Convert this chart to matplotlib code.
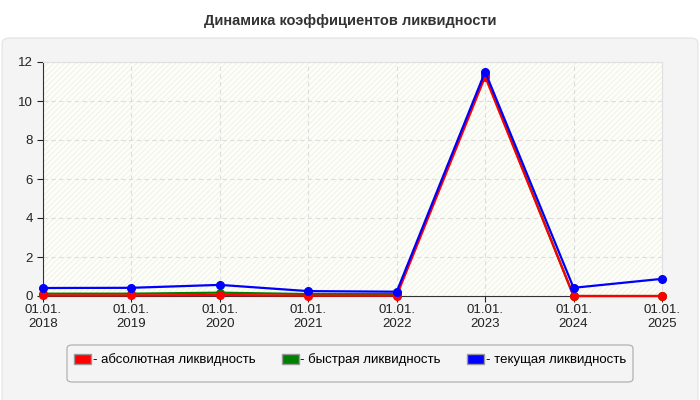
import matplotlib
matplotlib.use('Agg')
import matplotlib.pyplot as plt
from matplotlib.patches import FancyBboxPatch, Rectangle, Patch

plt.rcParams['font.family'] = ['Liberation Sans', 'DejaVu Sans']
plt.rcParams['hatch.linewidth'] = 0.5

# data
years = ['2018', '2019', '2020', '2021', '2022', '2023', '2024', '2025']
x_labels = ['01.01.\n' + y for y in years]
absolute = [0.03, 0.03, 0.05, 0.02, 0.02, 11.25, 0.0, 0.0]
quick = [0.12, 0.12, 0.17, 0.10, 0.10, 11.35, 0.0, 0.0]
current = [0.41, 0.42, 0.57, 0.25, 0.22, 11.5, 0.42, 0.88]

series = [
    ('- быстрая ликвидность', quick, '#008000'),
    ('- абсолютная ликвидность', absolute, '#ff0000'),
    ('- текущая ликвидность', current, '#0000ff'),
]

fig = plt.figure(figsize=(7, 4), dpi=100)
fig.patch.set_facecolor('white')

# grey panel
panel = FancyBboxPatch((0.003, -0.05), 0.994, 0.955, boxstyle='round,pad=0,rounding_size=0.012',
                       transform=fig.transFigure, facecolor='#f4f4f4', edgecolor='#e2e2e2',
                       linewidth=0.8, zorder=-5)
fig.patches.append(panel)

fig.text(0.5, 0.948, 'Динамика коэффициентов ликвидности', ha='center', va='center',
         fontsize=10.5, fontweight='bold', color='#333333')

ax = fig.add_axes([0.0614, 0.26, 0.8843, 0.585])
ax.set_facecolor('#fefef9')
ax.add_patch(Rectangle((0, 0), 1, 1, transform=ax.transAxes, facecolor='none',
                       edgecolor='#ecece6', hatch='//////', linewidth=0, zorder=0))

xs = list(range(len(years)))
for label, vals, color in series:
    ax.plot(xs, vals, color=color, linewidth=1.6, marker='o', markersize=5.5, label=label,
            clip_on=False, zorder=3)

ax.set_xlim(0, len(years) - 1)
ax.set_ylim(0, 12)
ax.set_xticks(xs)
ax.set_xticklabels(x_labels)
ax.set_yticks(range(0, 13, 2))
ax.tick_params(axis='both', labelsize=9.5, colors='#222222', length=4, width=0.8)
ax.tick_params(axis='x', pad=2)
ax.grid(True, color='#dddddd', linestyle=(0, (4, 3)), linewidth=0.8)
ax.set_axisbelow(True)
for s in ['top', 'right']:
    ax.spines[s].set_color('#e0e0e0')
for s in ['left', 'bottom']:
    ax.spines[s].set_color('#333333')

# legend box
legbox = FancyBboxPatch((67 / 700, 1 - 382 / 400), 566 / 700, 37 / 400,
                        boxstyle='round,pad=0,rounding_size=0.008', transform=fig.transFigure,
                        facecolor='#f4f4f4', edgecolor='#aaaaaa', linewidth=0.8, zorder=-4)
fig.patches.append(legbox)

handles = [Patch(facecolor=c, edgecolor='#999999', label=l) for l, v, c in
           [series[1], series[0], series[2]]]
leg = fig.legend(handles=handles, loc='center', bbox_to_anchor=(0.5, 1 - 360 / 400), ncol=3,
                 fontsize=9.5, frameon=False, handlelength=1.3, handleheight=0.8,
                 handletextpad=0.1, columnspacing=2.0)

fig.savefig('out.png', dpi=100, facecolor=fig.get_facecolor())
